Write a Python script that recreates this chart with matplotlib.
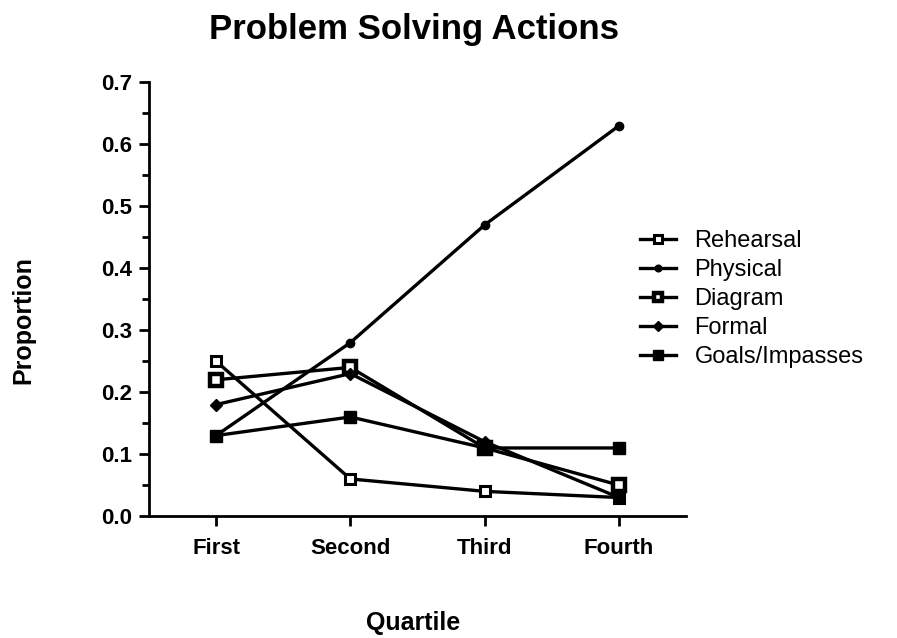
import matplotlib
matplotlib.use('Agg')
from matplotlib import pyplot as plt

quartiles = ['First', 'Second', 'Third', 'Fourth']
rehearsal = [0.25, 0.06, 0.04, 0.03]
physical = [0.13, 0.28, 0.47, 0.63]
diagram = [0.22, 0.24, 0.11, 0.05]
formal = [0.18, 0.23, 0.12, 0.03]
goals = [0.13, 0.16, 0.11, 0.11]

plt.rcParams['font.family'] = ['Liberation Sans', 'DejaVu Sans']

fig = plt.figure(figsize=(8.97, 6.38), dpi=100)
ax = fig.add_axes([0.166, 0.191, 0.599, 0.68])

x = range(len(quartiles))
lw = 2.4
# hollow square markers for rehearsal / diagram, filled for the rest
ax.plot(x, rehearsal, color='black', lw=lw, marker='s', markersize=7.5,
        markerfacecolor='white', markeredgewidth=2.2, label='Rehearsal')
ax.plot(x, physical, color='black', lw=lw, marker='o', markersize=6, label='Physical')
ax.plot(x, diagram, color='black', lw=lw, marker='s', markersize=8,
        markerfacecolor='white', markeredgewidth=3.2, label='Diagram')
ax.plot(x, formal, color='black', lw=lw, marker='D', markersize=6, label='Formal')
ax.plot(x, goals, color='black', lw=lw, marker='s', markersize=9, label='Goals/Impasses')

ax.set_xlim(-0.5, 3.5)
ax.set_ylim(0, 0.7)
ax.set_xticks(list(x))
ax.set_xticklabels(quartiles, fontsize=16, fontweight='bold')
ax.set_yticks([0.0, 0.1, 0.2, 0.3, 0.4, 0.5, 0.6, 0.7])
ax.set_yticklabels(['0.0', '0.1', '0.2', '0.3', '0.4', '0.5', '0.6', '0.7'],
                   fontsize=16, fontweight='bold')
ax.set_yticks([0.05, 0.15, 0.25, 0.35, 0.45, 0.55, 0.65], minor=True)
ax.tick_params(axis='both', which='major', length=7, width=2, pad=5)
ax.tick_params(axis='x', which='major', pad=9)
ax.tick_params(axis='y', which='minor', length=5, width=2)

ax.spines['top'].set_visible(False)
ax.spines['right'].set_visible(False)
ax.spines['left'].set_linewidth(2)
ax.spines['bottom'].set_linewidth(2)

fig.text(0.461, 1 - 623 / 638, 'Quartile', fontsize=18, fontweight='bold',
         ha='center', va='center')
fig.text(23 / 897, 1 - 320 / 638, 'Proportion', fontsize=18, fontweight='bold',
         ha='center', va='center', rotation=90)
fig.text(0.462, 1 - 30 / 638, 'Problem Solving Actions', fontsize=25,
         fontweight='bold', ha='center', va='center')

ax.legend(loc='center left', bbox_to_anchor=(0.875, 0.5), frameon=False,
          fontsize=17, handlelength=1.5, labelspacing=0.3, handletextpad=0.8,
          markerscale=0.8)

plt.savefig('out.png', dpi=100)
